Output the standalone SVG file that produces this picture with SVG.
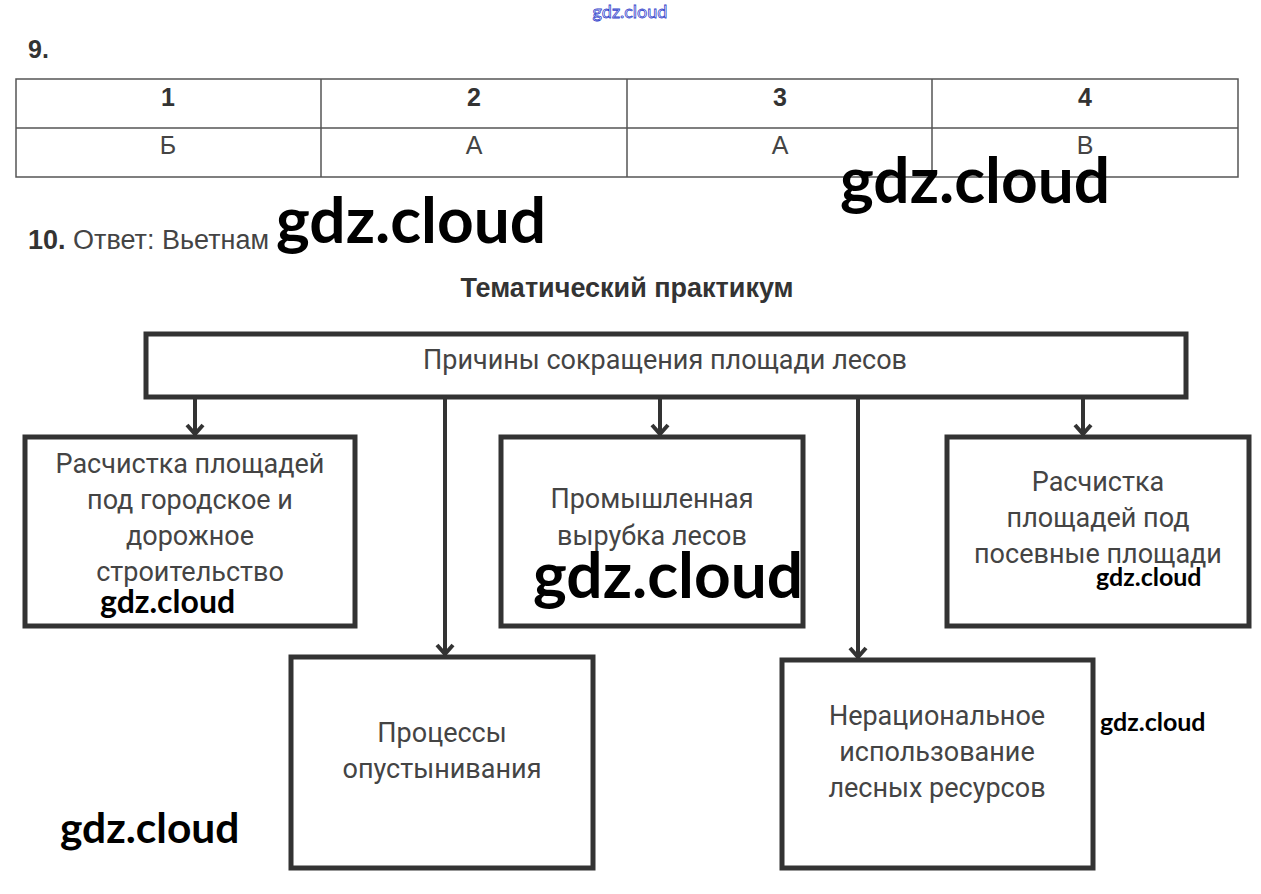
<svg xmlns="http://www.w3.org/2000/svg" width="1261" height="894" viewBox="0 0 1261 894">
<defs>
<style>
.bx{fill:#fff;stroke:#333;stroke-width:5}
.t{font-family:Roboto,"Liberation Sans",sans-serif;font-size:27px;fill:#444;text-anchor:middle}
.tb{font-family:"Liberation Sans",Arial,sans-serif;font-weight:bold;fill:#333}
.tt{font-family:"Liberation Sans",Arial,sans-serif;font-size:25px;fill:#444;text-anchor:middle}
.cn{stroke:#333;stroke-width:4;fill:none}
.wm{font-family:Lato,"Liberation Sans",sans-serif;font-weight:bold;fill:#000}
.tl{stroke:#555;stroke-width:1.5;fill:none}
</style>
<marker id="ah" viewBox="0 0 20 20" refX="18" refY="10" markerWidth="20" markerHeight="20" markerUnits="userSpaceOnUse" orient="auto">
<path d="M8,2 L17,10 L8,18" fill="none" stroke="#333" stroke-width="4"/>
</marker>
</defs>
<rect width="1261" height="894" fill="#fff"/>
<text x="630" y="18" font-family="Lato,'Liberation Sans',sans-serif" font-size="18" fill="#fff" stroke="#3344cc" stroke-width="0.8" text-anchor="middle">gdz.cloud</text>
<text x="28" y="58" class="tb" font-size="25">9.</text>
<g id="table">
<rect x="16" y="79" width="1222" height="98" class="tl"/>
<line x1="16" y1="128" x2="1238" y2="128" class="tl"/>
<line x1="321" y1="79" x2="321" y2="177" class="tl"/>
<line x1="627" y1="79" x2="627" y2="177" class="tl"/>
<line x1="932" y1="79" x2="932" y2="177" class="tl"/>
<text x="168" y="106" class="tb" font-size="25" text-anchor="middle">1</text>
<text x="474" y="106" class="tb" font-size="25" text-anchor="middle">2</text>
<text x="780" y="106" class="tb" font-size="25" text-anchor="middle">3</text>
<text x="1085" y="106" class="tb" font-size="25" text-anchor="middle">4</text>
<text x="168" y="154" class="tt">Б</text>
<text x="474" y="154" class="tt">А</text>
<text x="780" y="154" class="tt">А</text>
<text x="1085" y="154" class="tt">В</text>
</g>
<text x="28" y="249" font-family="'Liberation Sans',Arial,sans-serif" font-size="27" fill="#444"><tspan font-weight="bold" fill="#333">10.</tspan> Ответ: Вьетнам</text>
<text x="627" y="297" class="tb" font-size="27" text-anchor="middle">Тематический практикум</text>
<g id="connectors">
<line x1="195" y1="397" x2="195" y2="435" class="cn" marker-end="url(#ah)"/>
<line x1="445" y1="397" x2="445" y2="655" class="cn" marker-end="url(#ah)"/>
<line x1="660" y1="397" x2="660" y2="435" class="cn" marker-end="url(#ah)"/>
<line x1="858" y1="397" x2="858" y2="658" class="cn" marker-end="url(#ah)"/>
<line x1="1083" y1="397" x2="1083" y2="435" class="cn" marker-end="url(#ah)"/>
</g>
<g id="root">
<rect x="146" y="334" width="1040" height="63" class="bx"/>
<text x="665" y="369" class="t">Причины сокращения площади лесов</text>
</g>
<g id="n1">
<rect x="25" y="437" width="330" height="189" class="bx"/>
<text x="190" y="473" class="t">Расчистка площадей</text>
<text x="190" y="509" class="t">под городское и</text>
<text x="190" y="545" class="t">дорожное</text>
<text x="190" y="581" class="t">строительство</text>
</g>
<g id="n2">
<rect x="501" y="437" width="302" height="189" class="bx"/>
<text x="652" y="508" class="t">Промышленная</text>
<text x="652" y="545" class="t">вырубка лесов</text>
</g>
<g id="n3">
<rect x="947" y="437" width="302" height="189" class="bx"/>
<text x="1098" y="491" class="t">Расчистка</text>
<text x="1098" y="527" class="t">площадей под</text>
<text x="1098" y="563" class="t">посевные площади</text>
</g>
<g id="n4">
<rect x="291" y="657" width="302" height="211" class="bx"/>
<text x="442" y="742" class="t">Процессы</text>
<text x="442" y="778" class="t">опустынивания</text>
</g>
<g id="n5">
<rect x="782" y="660" width="311" height="208" class="bx"/>
<text x="937" y="725" class="t">Нерациональное</text>
<text x="937" y="761" class="t">использование</text>
<text x="937" y="797" class="t">лесных ресурсов</text>
</g>
<text x="276" y="243" class="wm" font-size="64">gdz.cloud</text>
<text x="840" y="203" class="wm" font-size="64">gdz.cloud</text>
<text x="533" y="598" class="wm" font-size="64">gdz.cloud</text>
<text x="100" y="613" class="wm" font-size="32">gdz.cloud</text>
<text x="1096" y="586" class="wm" font-size="25">gdz.cloud</text>
<text x="1100" y="731" class="wm" font-size="25">gdz.cloud</text>
<text x="60" y="843" class="wm" font-size="42.5">gdz.cloud</text>
</svg>
